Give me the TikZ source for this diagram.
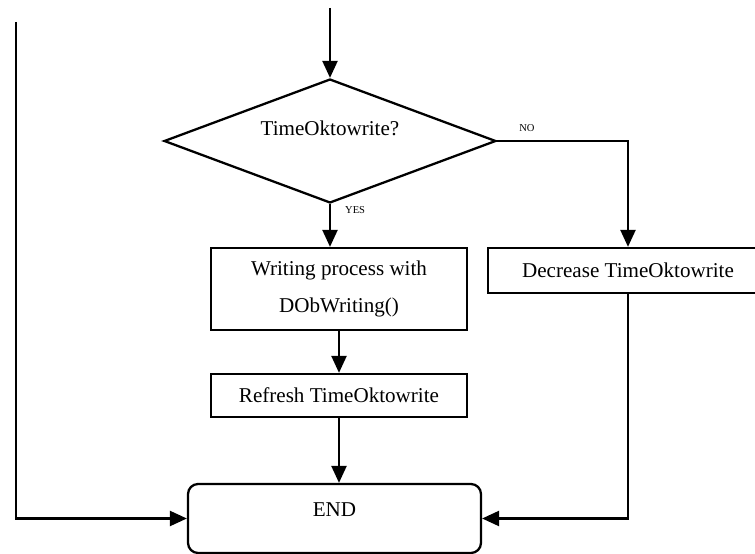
\documentclass[tikz,border=0pt]{standalone}
\usepackage{fontspec}
\setmainfont{Liberation Serif}
\usetikzlibrary{shapes.geometric,arrows.meta,positioning}

\begin{document}
\begin{tikzpicture}[x=0.02cm, y=-0.02cm, line width=1.3pt,
        every node/.style={font=\fontsize{12}{14.5}\selectfont},
        flow/.style={-{Triangle[width=0.3cm,length=0.34cm]}},
        box/.style={draw, rectangle, inner sep=0pt, minimum width=5.12cm},
        decision/.style={draw, diamond, inner sep=0pt, minimum width=6.64cm, minimum height=2.48cm},
        tag/.style={font=\fontsize{6}{7}\selectfont, inner sep=0pt}]

        \useasboundingbox (0,0) rectangle (755,554);

        % loose ends coming from above
        \coordinate (in) at (330,8);
        \coordinate (back) at (16,22);

        \node[decision] (ask) at (330,141) {};
        \node (asktxt) at ([yshift=0.26cm]ask.center) {TimeOktowrite?};

        \node[box, minimum height=1.64cm, align=center] (write) at (339,289)
            {Writing process with\\[7pt]DObWriting()};
        \node[box, minimum height=0.86cm] (refresh) at (339,395.5) {Refresh TimeOktowrite};
        \node[box, minimum width=5.6cm, minimum height=0.9cm] (dec) at (628,270.5) {Decrease TimeOktowrite};

        \node[draw, rounded corners=0.2cm, minimum width=5.86cm, minimum height=1.38cm] (stop) at (334.5,518.5) {};
        \node (stoptxt) at ([yshift=0.17cm]stop.center) {END};

        \draw[flow] (in) -- (ask.north);
        \draw[flow] (ask.east) -| (dec.north);
        \node[tag, anchor=south west] (no) at ([shift={(21,-8)}]ask.east) {NO};
        \draw[flow] (ask.south) -- (ask.south |- write.north);
        \node[tag, anchor=north west] (yes) at ([shift={(14,1)}]ask.south) {YES};
        \draw[flow] (write.south) -- (refresh.north);
        \draw[flow] (refresh.south) -- (refresh.south |- stop.north);

        \draw[flow] (back) |- (stop.west);
        \draw[flow] (dec.south) |- (stop.east);
\end{tikzpicture}
\end{document}
